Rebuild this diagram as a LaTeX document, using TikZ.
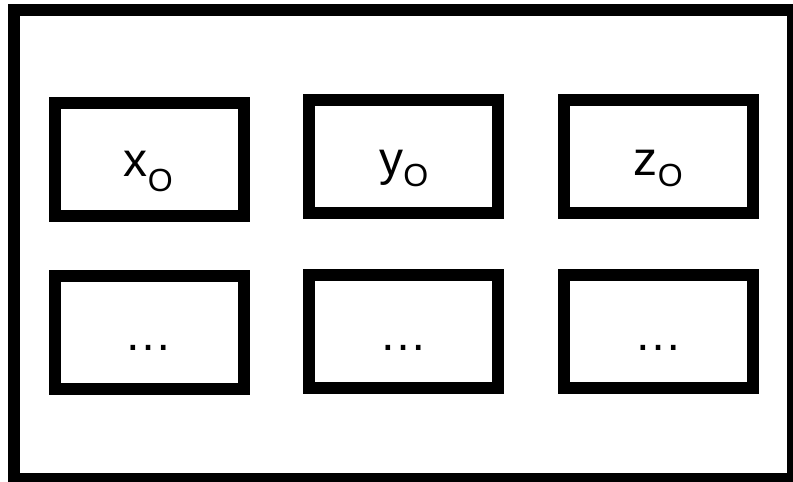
\documentclass[tikz,border=0pt]{standalone}
\usepackage{fontspec}
\setmainfont{Liberation Sans}
\begin{document}
\begin{tikzpicture}[x=1pt,y=-1pt,
  frame/.style={draw=black,line width=12pt},
  cell/.style={draw=black,line width=12pt,fill=white,inner sep=0pt,minimum width=188.5pt,minimum height=113pt},
  lbl/.style={inner sep=0pt,anchor=base,font=\fontsize{48}{48}\selectfont}]
\useasboundingbox (0,0) rectangle (793,482);
\clip (0,0) rectangle (793,482);
\fill[white] (0,0) rectangle (793,482);
\draw[frame] (14,10) rectangle (793.3,479.3);
% row 1
\node[cell] (b1) at (149.3,159) {};
\node[cell] (b2) at (403.5,156.7) {};
\node[cell] (b3) at (658.3,156.7) {};
% row 2
\node[cell] (b4) at (149.3,332.7) {};
\node[cell] (b5) at (403.6,331.2) {};
\node[cell] (b6) at (658.3,331.2) {};
% labels
\node[lbl] (t1) at (148.4,176.7) {x\raisebox{-15pt}{\fontsize{32}{32}\selectfont O}};
\node[lbl] (t2) at (403.7,175) {y\raisebox{-11pt}{\fontsize{32}{32}\selectfont O}};
\node[lbl] (t3) at (658.3,175) {z\raisebox{-11.7pt}{\fontsize{32}{32}\selectfont O}};
\node[lbl] (t4) at (148.8,350.6) {…};
\node[lbl] (t5) at (403.8,350.2) {…};
\node[lbl] (t6) at (658.3,350.2) {…};
\end{tikzpicture}
\end{document}
